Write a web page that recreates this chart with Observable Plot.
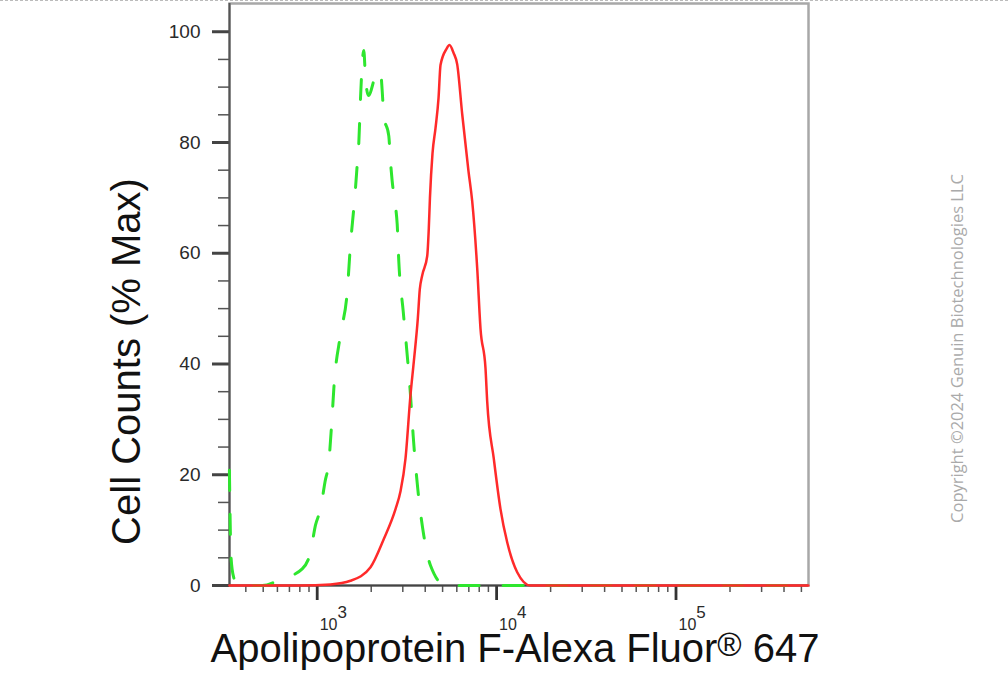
<!DOCTYPE html>
<html>
<head>
<meta charset="utf-8">
<script src="https://cdn.jsdelivr.net/npm/d3@7"></script>
<script src="https://cdn.jsdelivr.net/npm/@observablehq/plot@0.6"></script>
<style>
  body { margin: 0; background: #fff; }
  #wrap { position: relative; width: 1008px; height: 700px; overflow: hidden; }
  #topdash { position: absolute; left: 0; top: 0; width: 1008px; border-top: 1px dashed #bbb; z-index: 2; }
</style>
</head>
<body>
<div id="wrap"><div id="chart"></div><div id="topdash"></div></div>
<script>
// ---- data ----
const redX = [324, 807, 1186, 1533, 1982, 2351, 2732, 2913, 3105, 3311, 3454, 3637, 3732, 3848, 4104, 4188, 4250, 4391, 4565, 4745, 4868, 5256, 5462, 5751, 6031, 6431, 6972, 7310, 7795, 8132, 8672, 8863, 9645, 10512, 11455, 13025, 15452, 547000];
const redY = [0, 0, 0.2, 0.85, 3.3, 8.4, 13.8, 17, 22.9, 34.4, 40.4, 48.2, 53.5, 56, 59.5, 64.5, 70, 78, 82.6, 88, 94, 96.9, 97.6, 96.2, 94.1, 85.1, 74.8, 69.4, 57.3, 46.4, 39.2, 33.2, 22.9, 13.8, 7.8, 2.4, 0, 0];

const greenX = [324, 331, 342, 362, 494, 624, 825, 917, 978, 1043, 1105, 1160, 1212, 1238, 1348, 1470, 1533, 1600, 1635, 1671, 1706, 1743, 1818, 1858, 1931, 2113, 2253, 2303, 2351, 2506, 2561, 2618, 2732, 2792, 2850, 3016, 3199, 3311, 3428, 3637, 3929, 4281, 5189, 547000];
const greenY = [20.8, 5, 1.5, 0, 0, 1.1, 3, 6, 10.9, 13.8, 18.7, 22.3, 30.7, 35.6, 45.3, 53, 61.6, 68.2, 71.8, 76, 80, 88, 96.6, 91.7, 88.5, 92, 92.9, 89.3, 84.8, 81.2, 76.6, 73, 68.5, 65.2, 58.5, 49.5, 40.4, 34.4, 27, 17.4, 9, 3.6, 0, 0];

const xMajorTicks = [1e3, 1e4, 1e5];
const xTickBase = ["10", "10", "10"];
const xExponents = ["3", "4", "5"];
const xMinorTicks = [400, 500, 600, 700, 800, 900, 2000, 3000, 4000, 5000, 6000, 7000, 8000, 9000, 20000, 30000, 40000, 50000, 60000, 70000, 80000, 90000, 200000, 300000, 400000, 500000];
const yMajorTicks = [0, 20, 40, 60, 80, 100];
const yMinorTicks = [5, 10, 15, 25, 30, 35, 45, 50, 55, 65, 70, 75, 85, 90, 95];
const xDomain = [324.4, 547700];
const yDomain = [0, 105.1];

const xTitle = "Apolipoprotein F-Alexa Fluor® 647";
const yTitle = "Cell Counts (% Max)";
const copyright = "Copyright ©2024 Genuin Biotechnologies LLC";

const redData = redX.map((x, i) => ({x, y: redY[i]}));
const greenData = greenX.map((x, i) => ({x, y: greenY[i]}));

const font = "'Liberation Sans', Arial, Helvetica, sans-serif";

const svg = Plot.plot({
  width: 1008,
  height: 700,
  marginLeft: 229,
  marginRight: 200,
  marginTop: 3,
  marginBottom: 115,
  style: { fontFamily: font, background: "transparent", color: "#333" },
  x: { type: "log", domain: xDomain },
  y: { domain: yDomain },
  marks: [
    Plot.frame({ stroke: "#a8a8a8", strokeWidth: 2.5 }),
    // y axis
    Plot.axisY(yMinorTicks, { tickSize: 11, stroke: "#555", strokeWidth: 1.5, fill: "none", label: null }),
    Plot.axisY(yMajorTicks, { tickSize: 17, tickPadding: 12, stroke: "#444", strokeWidth: 3, fill: "#2a2a2a", fontSize: 19, label: null }),
    // x axis
    Plot.axisX(xMinorTicks, { tickSize: 7, stroke: "#555", strokeWidth: 1.5, fill: "none", label: null }),
    Plot.axisX(xMajorTicks, { tickSize: 15, stroke: "#333", strokeWidth: 2.8, fill: "none", label: null }),
    Plot.text(xMajorTicks, { x: d => d, text: (d, i) => xTickBase[i], frameAnchor: "bottom", dy: 44, dx: 2.5, textAnchor: "start", fontSize: 16, fill: "#2a2a2a", className: "xtick" }),
    // axis lines
    Plot.ruleX([xDomain[0]], { stroke: "#555", strokeWidth: 2 }),
    Plot.ruleY([0], { stroke: "#444", strokeWidth: 2 }),
    // histograms
    Plot.line(greenData, { x: "x", y: "y", stroke: "#2ee62e", strokeWidth: 3, strokeDasharray: "20,24", curve: "monotone-x" }),
    Plot.line(redData, { x: "x", y: "y", stroke: "#ff2a2a", strokeWidth: 2.5, curve: "monotone-x" }),
    // titles
    Plot.text([xTitle], { text: d => d, frameAnchor: "bottom", dy: 76, dx: -4, fontSize: 40, fill: "#111", className: "xtitle" }),
    Plot.text([yTitle], { text: d => d, frameAnchor: "left", textAnchor: "middle", dx: -102, dy: 67, rotate: -90, fontSize: 40, fill: "#111" }),
    Plot.text([copyright], { text: d => d, frameAnchor: "right", textAnchor: "middle", dx: 149, dy: 54, rotate: -90, fontSize: 16.5, fill: "#aaa", fontFamily: "'Open Sans', 'Noto Sans', sans-serif" })
  ]
});

// exponents of the x tick labels as superscripts
d3.select(svg).selectAll(".xtick text").each(function (i) {
  d3.select(this).append("tspan").attr("dy", -12).attr("font-size", 17).text(xExponents[i]);
});

// superscript the registered sign in the x title
d3.select(svg).selectAll(".xtitle text").each(function () {
  const parts = xTitle.split("®");
  const t = d3.select(this);
  t.text(null);
  t.append("tspan").text(parts[0]);
  t.append("tspan").attr("dy", -6).attr("font-size", 33).text("®");
  t.append("tspan").attr("dy", 6).text(parts[1]);
});

document.getElementById("chart").appendChild(svg);
</script>
</body>
</html>
